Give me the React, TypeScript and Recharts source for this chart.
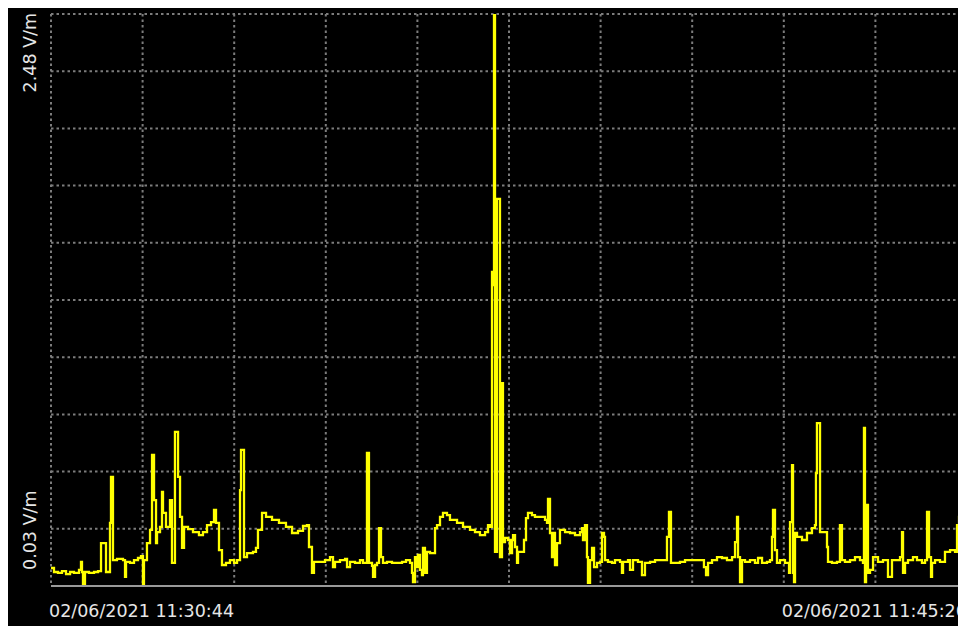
import React from "react";
import { LineChart, Line, XAxis, YAxis, CartesianGrid } from "recharts";

// Elapsed seconds since the start of the recording (11:30:44)
const seconds = [
  0, 3.6, 8.4, 13.2, 18.1, 22.9, 27.7, 33.7, 36.1, 37.3,
  38.5, 40.9, 45.7, 51.8, 56.6, 60.2, 66.2, 71.0, 72.2, 74.6,
  79.4, 86.7, 89.1, 90.3, 95.1, 99.9, 104.7, 108.3, 110.7, 111.9,
  115.5, 119.2, 121.6, 124.0, 126.4, 127.6, 131.2, 133.6, 134.8, 138.4,
  143.2, 145.6, 149.2, 152.9, 155.3, 157.7, 160.1, 164.9, 170.9, 178.1,
  182.9, 187.8, 192.6, 196.2, 198.6, 202.2, 205.8, 210.6, 215.4, 220.3,
  223.9, 227.5, 228.7, 232.3, 235.9, 243.1, 246.7, 249.1, 254.0, 258.8,
  266.0, 274.4, 282.8, 290.1, 297.3, 303.3, 308.1, 310.5, 314.1, 316.5,
  323.8, 329.8, 335.8, 339.4, 341.8, 347.8, 353.9, 356.3, 359.9, 365.9,
  371.9, 375.5, 380.3, 382.7, 386.4, 387.6, 390.0, 392.4, 394.8, 397.2,
  399.6, 404.4, 410.4, 416.4, 422.5, 427.3, 432.1, 434.5, 435.7, 438.1,
  440.5, 441.7, 444.1, 446.5, 447.7, 450.1, 452.5, 456.2, 461.0, 462.2,
  464.6, 468.2, 471.8, 476.6, 480.2, 488.7, 495.9, 504.3, 510.3, 516.3,
  522.4, 526.0, 528.4, 530.8, 532.0, 533.2, 534.4, 536.8, 540.4, 542.8,
  544.0, 546.4, 550.0, 552.4, 554.9, 556.1, 558.5, 560.9, 562.1, 566.9,
  569.3, 571.7, 574.1, 578.9, 582.5, 588.6, 594.6, 597.0, 598.2, 600.6,
  603.0, 604.2, 606.6, 609.0, 612.6, 618.7, 624.7, 630.7, 636.7, 639.1,
  640.3, 642.7, 645.1, 646.3, 648.8, 651.2, 653.6, 657.2, 660.8, 663.2,
  665.6, 666.8, 670.4, 675.2, 678.8, 684.9, 687.2, 688.5, 694.5, 696.9,
  700.5, 706.5, 711.3, 714.9, 721.0, 727.0, 733.0, 739.0, 741.4, 743.8,
  746.2, 751.0, 757.0, 763.1, 769.1, 775.1, 781.1, 785.9, 788.4, 790.8,
  795.6, 801.6, 807.6, 813.6, 819.7, 823.3, 825.7, 826.9, 829.3, 831.7,
  835.3, 841.3, 847.3, 851.0, 855.8, 861.8, 865.4, 867.8, 869.0, 871.4,
  873.8, 877.4, 883.4, 888.3, 889.5, 891.9, 893.1, 894.3, 895.5, 897.9,
  903.9, 909.9, 915.9, 919.5, 920.7, 921.9, 925.6, 929.2, 934.0, 935.2,
  940.0, 946.0, 949.6, 952.0, 955.6, 961.7, 967.7, 973.7, 977.3, 978.5,
  979.7, 981.0, 983.3, 985.8, 989.4, 995.4, 1001.4, 1007.4, 1011.0, 1012.2,
  1018.2, 1021.9, 1024.3, 1025.5, 1027.9, 1031.5, 1037.5, 1042.3, 1048.3, 1052.0,
  1054.4, 1056.8, 1059.2, 1060.4, 1064.0, 1070.0, 1076.0, 1082.1, 1088.1, 1090.5,
  1092.9, 1095.3, 1096.5, 1098.9, 1102.5,
];

// Electric field strength in V/m, one value per entry of `seconds`
const fieldVm = [
  0.107, 0.090, 0.086, 0.094, 0.081, 0.090, 0.086, 0.099, 0.133, 0.090,
  0.030, 0.090, 0.086, 0.090, 0.094, 0.214, 0.090, 0.300, 0.497, 0.141,
  0.146, 0.141, 0.069, 0.133, 0.129, 0.141, 0.150, 0.158, 0.030, 0.141,
  0.214, 0.270, 0.591, 0.398, 0.214, 0.261, 0.283, 0.433, 0.343, 0.283,
  0.398, 0.129, 0.690, 0.497, 0.326, 0.193, 0.283, 0.274, 0.261, 0.248,
  0.261, 0.291, 0.304, 0.356, 0.300, 0.184, 0.120, 0.129, 0.141, 0.129,
  0.141, 0.441, 0.613, 0.154, 0.171, 0.176, 0.193, 0.270, 0.343, 0.326,
  0.313, 0.300, 0.283, 0.257, 0.266, 0.287, 0.291, 0.197, 0.086, 0.133,
  0.133, 0.141, 0.154, 0.111, 0.133, 0.141, 0.146, 0.111, 0.133, 0.129,
  0.141, 0.129, 0.600, 0.129, 0.116, 0.069, 0.120, 0.129, 0.278, 0.154,
  0.129, 0.133, 0.129, 0.129, 0.133, 0.141, 0.129, 0.086, 0.047, 0.154,
  0.111, 0.163, 0.099, 0.077, 0.193, 0.086, 0.176, 0.171, 0.171, 0.278,
  0.291, 0.326, 0.343, 0.334, 0.313, 0.300, 0.283, 0.270, 0.261, 0.248,
  0.261, 0.291, 0.283, 1.375, 1.319, 2.480, 0.176, 1.688, 0.154, 0.899,
  0.218, 0.236, 0.227, 0.171, 0.227, 0.248, 0.197, 0.129, 0.176, 0.176,
  0.227, 0.321, 0.343, 0.334, 0.326, 0.326, 0.313, 0.300, 0.403, 0.257,
  0.154, 0.257, 0.120, 0.214, 0.270, 0.261, 0.257, 0.248, 0.261, 0.278,
  0.227, 0.291, 0.154, 0.043, 0.141, 0.193, 0.111, 0.129, 0.133, 0.257,
  0.240, 0.141, 0.133, 0.129, 0.141, 0.133, 0.086, 0.133, 0.141, 0.099,
  0.141, 0.133, 0.077, 0.129, 0.133, 0.141, 0.141, 0.141, 0.240, 0.347,
  0.129, 0.129, 0.133, 0.141, 0.141, 0.141, 0.141, 0.111, 0.077, 0.129,
  0.141, 0.154, 0.150, 0.141, 0.154, 0.218, 0.326, 0.154, 0.047, 0.141,
  0.133, 0.141, 0.129, 0.150, 0.129, 0.133, 0.141, 0.240, 0.356, 0.184,
  0.129, 0.141, 0.129, 0.086, 0.304, 0.548, 0.086, 0.047, 0.257, 0.240,
  0.227, 0.257, 0.278, 0.291, 0.514, 0.728, 0.261, 0.261, 0.197, 0.133,
  0.129, 0.133, 0.291, 0.141, 0.133, 0.141, 0.154, 0.141, 0.129, 0.707,
  0.047, 0.377, 0.086, 0.099, 0.154, 0.133, 0.141, 0.069, 0.069, 0.141,
  0.141, 0.154, 0.261, 0.086, 0.129, 0.141, 0.154, 0.141, 0.129, 0.141,
  0.347, 0.154, 0.069, 0.129, 0.141, 0.133, 0.176, 0.184, 0.176, 0.291,
  0.326, 0.398, 0.454, 0.527, 0.527,
];

// Time axis: ten grid divisions, labels at the start and at the eighth division
const gridStepSeconds = 110.25;
const gridDivisions = 10;
const labelledSeconds = [0, 882];
const timeLabels = ["02/06/2021 11:30:44", "02/06/2021 11:45:26"];

// Field axis: scale runs from the minimum to the maximum reading
const fieldMin = 0.03;
const fieldMax = 2.48;
const fieldLabels = ["0.03 V/m", "2.48 V/m"];

const data = seconds.map((t, i) => ({ t, v: fieldVm[i] }));
const xTicks = Array.from({ length: gridDivisions + 1 }, (_, i) => i * gridStepSeconds);
const yTicks = Array.from({ length: gridDivisions + 1 }, (_, i) =>
  Number((fieldMin + ((fieldMax - fieldMin) * i) / gridDivisions).toFixed(4))
);

const LABEL_FONT = "'DejaVu Sans', Verdana, sans-serif";
const LABEL_COLOR = "#e6e6e6";
const LABEL_SIZE = 17.5;

const TimeTick = (props: any) => {
  const { x, y, payload } = props;
  const idx = labelledSeconds.indexOf(payload.value);
  if (idx < 0) return <g />;
  return (
    <text
      x={x - 2}
      y={y + 31}
      fill={LABEL_COLOR}
      fontSize={LABEL_SIZE}
      fontFamily={LABEL_FONT}
      textAnchor="start"
    >
      {timeLabels[idx]}
    </text>
  );
};

const FieldTick = (props: any) => {
  const { y, payload } = props;
  const baseX = 28;
  if (payload.value === fieldMax) {
    const ay = y - 1;
    return (
      <text
        x={baseX}
        y={ay}
        transform={`rotate(-90, ${baseX}, ${ay})`}
        fill={LABEL_COLOR}
        fontSize={LABEL_SIZE}
        fontFamily={LABEL_FONT}
        textAnchor="end"
      >
        {fieldLabels[1]}
      </text>
    );
  }
  if (payload.value === fieldMin) {
    const ay = y - 16;
    return (
      <text
        x={baseX}
        y={ay}
        transform={`rotate(-90, ${baseX}, ${ay})`}
        fill={LABEL_COLOR}
        fontSize={LABEL_SIZE}
        fontFamily={LABEL_FONT}
        textAnchor="start"
      >
        {fieldLabels[0]}
      </text>
    );
  }
  return <g />;
};

export default function App() {
  return (
    <div
      style={{
        marginTop: -5,
        width: 958,
        height: 623,
        background: "#000",
        overflow: "hidden",
      }}
    >
      <LineChart
        width={959}
        height={623}
        data={data}
        margin={{ top: 11, right: 0, bottom: 0, left: 0 }}
      >
        <CartesianGrid stroke="#7c7c7c" strokeWidth={2} strokeDasharray="2.5 3" />
        <XAxis
          dataKey="t"
          type="number"
          domain={[0, gridStepSeconds * gridDivisions]}
          ticks={xTicks}
          interval={0}
          height={40}
          tickLine={false}
          tickSize={0}
          tickMargin={0}
          axisLine={{ stroke: "#9a9a9a", strokeWidth: 2 }}
          tick={<TimeTick />}
        />
        <YAxis
          type="number"
          domain={[fieldMin, fieldMax]}
          ticks={yTicks}
          interval={0}
          width={43}
          tickLine={false}
          tickSize={0}
          tickMargin={0}
          axisLine={false}
          allowDataOverflow
          tick={<FieldTick />}
        />
        <Line
          dataKey="v"
          type="stepAfter"
          stroke="#ffff00"
          strokeWidth={2.3}
          dot={false}
          activeDot={false}
          isAnimationActive={false}
        />
      </LineChart>
    </div>
  );
}
